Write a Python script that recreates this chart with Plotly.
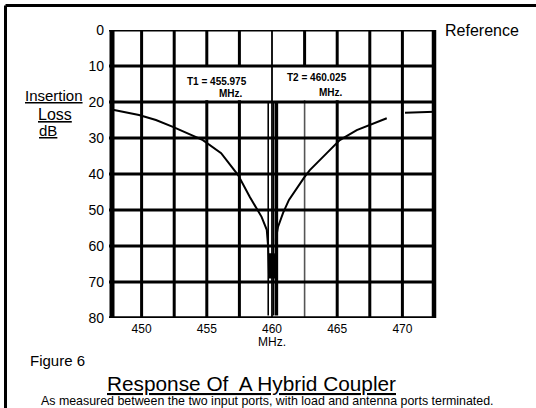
import plotly.graph_objects as go

# ---- data ----
freq_mhz = [447.6, 449.8, 451.1, 452.4, 454.7, 456.1, 457.4, 458.3, 459.2, 459.6, 459.7,
            459.72, 459.78, 459.85, 459.92, 460.0, 460.07, 460.14, 460.2, 460.26, 460.32, 460.3,
            460.46, 460.85, 461.3, 462.5, 462.9, 464.2, 465.2, 466.5, 467.8, 468.8,
            None, 470.2, 472.5]
loss_db = [22.0, 23.6, 25.0, 26.9, 30.6, 34.2, 40.3, 46.4, 51.9, 55.5, 60.0,
           62.0, 69.0, 62.0, 69.0, 62.0, 69.0, 62.0, 69.0, 63.0, 62.0, 58.0,
           54.7, 50.8, 47.2, 40.8, 38.9, 34.2, 30.6, 27.8, 25.9, 24.5,
           None, 23.0, 22.7]

marker_freqs = [459.71, 460.13, 460.35]   # T1 / T2 marker traces near 460 MHz
marker_widths = [1.6, 1.6, 3.2]

x_ticks = [450, 455, 460, 465, 470]
y_ticks = [0, 10, 20, 30, 40, 50, 60, 70, 80]
x_grid = [450, 452.5, 455, 457.5, 460, 462.5, 465, 467.5, 470]
y_grid = [10, 20, 30, 40, 50, 60, 70]
x_min, x_max = 447.5, 472.5
y_min, y_max = 0, 80

t1_label = "T1 = 455.975"
t2_label = "T2 = 460.025"

FONT = "Liberation Sans, Arial, sans-serif"
W, H = 536, 408
ML, MR, MT, MB = 109, 101, 30, 90
PW, PH = W - ML - MR, H - MT - MB


def px(x):
    return (x - ML) / PW


def py(y):
    return 1 - (y - MT) / PH


fig = go.Figure()

shapes = []
# gridlines (vertical) - box between 10 and 20 dB interrupts some
box_cols = {455, 457.5, 462.5, 465}
for gx in x_grid:
    if gx in box_cols:
        shapes.append(dict(type="line", xref="x", yref="y", x0=gx, x1=gx, y0=0, y1=10,
                           line=dict(color="black", width=3), layer="below"))
        if gx == 462.5:
            shapes.append(dict(type="line", xref="x", yref="y", x0=gx, x1=gx, y0=19.5, y1=80,
                               line=dict(color="#555555", width=1.6), layer="below"))
        else:
            shapes.append(dict(type="line", xref="x", yref="y", x0=gx, x1=gx, y0=19.5, y1=80,
                               line=dict(color="black", width=3), layer="below"))
    elif gx == 460:
        shapes.append(dict(type="line", xref="x", yref="y", x0=gx, x1=gx, y0=0, y1=80,
                           line=dict(color="black", width=1.8), layer="below"))
    else:
        shapes.append(dict(type="line", xref="x", yref="y", x0=gx, x1=gx, y0=0, y1=80,
                           line=dict(color="black", width=3), layer="below"))
for gy in y_grid:
    shapes.append(dict(type="line", xref="x", yref="y", x0=x_min, x1=x_max, y0=gy, y1=gy,
                       line=dict(color="black", width=3), layer="below"))

# marker traces
for mf, mw in zip(marker_freqs, marker_widths):
    shapes.append(dict(type="line", xref="x", yref="y", x0=mf, x1=mf, y0=20, y1=79.3,
                       line=dict(color="black", width=mw), layer="below"))

# plot frame
shapes += [
    dict(type="line", xref="x", yref="y", x0=x_min, x1=x_max, y0=0, y1=0,
         line=dict(color="black", width=3)),
    dict(type="line", xref="x", yref="y", x0=x_min, x1=x_max, y0=80, y1=80,
         line=dict(color="black", width=3.5)),
    dict(type="line", xref="paper", yref="y", x0=px(112), x1=px(112), y0=-0.3, y1=80.3,
         line=dict(color="black", width=5)),
    dict(type="line", xref="paper", yref="y", x0=px(434), x1=px(434), y0=-0.3, y1=80.3,
         line=dict(color="black", width=4.5)),
]
# outer page frame (top & left)
shapes += [
    dict(type="line", xref="paper", yref="paper", x0=px(5.5), x1=px(W + 2), y0=py(5.5), y1=py(5.5),
         line=dict(color="black", width=3)),
    dict(type="line", xref="paper", yref="paper", x0=px(5.5), x1=px(5.5), y0=py(5.5), y1=py(H + 2),
         line=dict(color="black", width=3)),
]

fig.add_trace(go.Scatter(x=freq_mhz, y=loss_db, mode="lines",
                         line=dict(color="black", width=2), connectgaps=False,
                         hoverinfo="skip", showlegend=False))

ann = []


def add_text(text, x, y, size, bold=False, under=False, xanchor="center"):
    f = dict(family=FONT, size=size, color="black")
    if bold:
        f["weight"] = "bold"
    if under:
        f["lineposition"] = "under"
    ann.append(dict(text=text, xref="paper", yref="paper", x=px(x), y=py(y),
                    xanchor=xanchor, yanchor="middle", showarrow=False, font=f))


add_text("Reference", 482, 31, 16)
add_text("Insertion", 23, 96, 15, under=True, xanchor="left")
add_text("Loss", 36, 114, 16, under=True, xanchor="left")
add_text("dB", 37, 130, 15, under=True, xanchor="left")
add_text(t1_label, 217, 81, 10, bold=True)
add_text("MHz.", 231, 93, 10, bold=True)
add_text(t2_label, 317, 78, 10, bold=True)
add_text("MHz.", 331, 92, 10, bold=True)
add_text("MHz.", 272, 342, 12)
add_text("Figure 6", 28, 360, 15, xanchor="left")
add_text("Response Of&nbsp; A Hybrid Coupler", 251, 383, 20.8, under=True)
add_text("As measured between the two input ports, with load and antenna ports terminated.",
         267, 401, 12.4)

fig.update_layout(
    width=W, height=H,
    margin=dict(l=ML, r=MR, t=MT, b=MB, pad=0),
    paper_bgcolor="white", plot_bgcolor="white",
    showlegend=False,
    shapes=shapes,
    annotations=ann,
    xaxis=dict(range=[x_min, x_max], tickvals=x_ticks, ticktext=[str(v) for v in x_ticks],
               showgrid=False, zeroline=False, showline=False, ticks="",
               ticklabelstandoff=2,
               tickfont=dict(family=FONT, size=12, color="black")),
    yaxis=dict(range=[y_max, y_min], tickvals=y_ticks, ticktext=[str(v) for v in y_ticks],
               showgrid=False, zeroline=False, showline=False, ticks="",
               ticklabelstandoff=4,
               tickfont=dict(family=FONT, size=14, color="black")),
)

fig.write_html("out.html", config={"displayModeBar": False},
               post_script="document.body.style.margin='0';document.body.style.overflow='hidden';")
